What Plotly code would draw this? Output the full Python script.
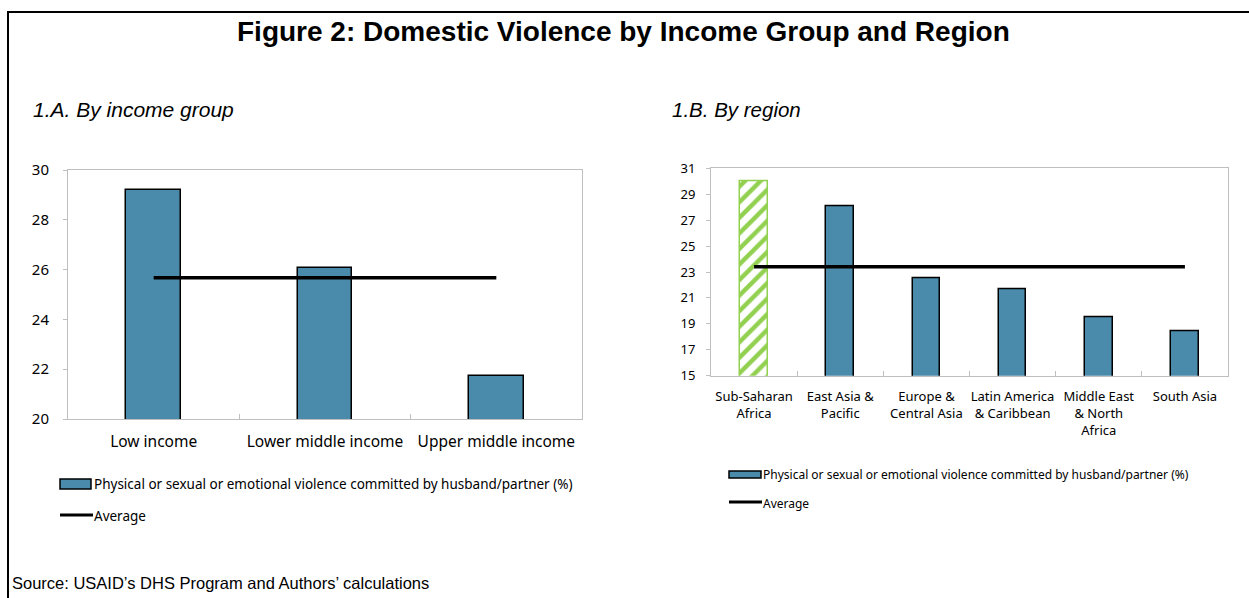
import plotly.graph_objects as go

# Panel A: by income group
income_groups = ["Low income", "Lower middle income", "Upper middle income"]
income_values = [29.2, 26.05, 21.74]
income_average = 25.67

# Panel B: by region
regions = ["Sub-Saharan Africa", "East Asia & Pacific", "Europe & Central Asia",
           "Latin America & Caribbean", "Middle East & North Africa", "South Asia"]
region_tick_labels = ["Sub-Saharan<br>Africa", "East Asia &<br>Pacific", "Europe &<br>Central Asia",
                      "Latin America<br>& Caribbean", "Middle East<br>& North<br>Africa", "South Asia"]
region_values = [30.0, 28.1, 22.5, 21.7, 19.5, 18.4]
region_average = 23.4

series_name = "Physical or sexual or emotional violence committed by husband/partner (%)"
average_name = "Average"

W, H = 1249, 598
BAR_BLUE = "#4A8AAB"
GREEN = "#92D050"
AXIS_GREY = "#BFBFBF"
SANS = "Noto Sans"
ARIAL = "Liberation Sans, Arial"


def px_x(v):
    return v / W


def px_y(v):
    return 1 - v / H


fig = go.Figure()

# Panel A bars and average line
fig.add_trace(go.Bar(
    x=income_groups, y=income_values, width=0.32,
    marker=dict(color=BAR_BLUE, line=dict(color="black", width=1.5)),
    xaxis="x", yaxis="y", showlegend=False, name=series_name,
))
fig.add_trace(go.Scatter(
    x=[income_groups[0], income_groups[-1]], y=[income_average, income_average],
    mode="lines", line=dict(color="black", width=3.5),
    xaxis="x", yaxis="y", showlegend=False, name=average_name,
))

# Panel B: Sub-Saharan Africa highlighted with green hatching, other regions in blue
fig.add_trace(go.Bar(
    x=regions[:1], y=region_values[:1], width=0.32,
    marker=dict(
        color="white",
        line=dict(color=GREEN, width=1.5),
        pattern=dict(shape="/", fillmode="replace", fgcolor=GREEN, bgcolor="white",
                     fgopacity=1, size=11, solidity=0.4),
    ),
    xaxis="x2", yaxis="y2", showlegend=False, name=regions[0],
))
fig.add_trace(go.Bar(
    x=regions[1:], y=region_values[1:], width=0.32,
    marker=dict(color=BAR_BLUE, line=dict(color="black", width=1.5)),
    xaxis="x2", yaxis="y2", showlegend=False, name=series_name,
))
fig.add_trace(go.Scatter(
    x=[regions[0], regions[-1]], y=[region_average, region_average],
    mode="lines", line=dict(color="black", width=3.5),
    xaxis="x2", yaxis="y2", showlegend=False, name=average_name,
))

common_x = dict(
    showline=True, linecolor=AXIS_GREY, linewidth=1, mirror=True,
    ticks="inside", tickson="boundaries", ticklen=5, tickcolor=AXIS_GREY,
    showgrid=False, zeroline=False, fixedrange=True, tickangle=0, automargin=False,
)
common_y = dict(
    showline=True, linecolor=AXIS_GREY, linewidth=1, mirror=True,
    ticks="outside", ticklen=4, tickcolor=AXIS_GREY,
    showgrid=False, zeroline=False, fixedrange=True, automargin=False,
)

fig.update_layout(
    template="none",
    width=W, height=H,
    margin=dict(l=0, r=0, t=0, b=0, autoexpand=False),
    paper_bgcolor="white", plot_bgcolor="white",
    barmode="overlay", bargap=0,
    xaxis=dict(domain=[px_x(68), px_x(582)], anchor="y",
               tickfont=dict(family=SANS, size=15.5, color="black"),
               ticklabelstandoff=8, **common_x),
    yaxis=dict(domain=[px_y(419), px_y(170)], anchor="x",
               range=[20, 30], dtick=2, tick0=20,
               tickfont=dict(family=SANS, size=15, color="black"),
               ticklabelstandoff=11, **common_y),
    xaxis2=dict(domain=[px_x(711), px_x(1228)], anchor="y2",
                categoryorder="array", categoryarray=regions,
                tickvals=regions, ticktext=region_tick_labels,
                tickfont=dict(family=SANS, size=13, color="black"),
                ticklabelstandoff=9, **common_x),
    yaxis2=dict(domain=[px_y(375.7), px_y(168.3)], anchor="x2",
                range=[15, 31], dtick=2, tick0=15,
                tickfont=dict(family=SANS, size=13, color="black"),
                ticklabelstandoff=8, **common_y),
)

shapes = [
    # Page frame: top and left rules
    dict(type="line", xref="paper", yref="paper", x0=px_x(7), x1=1, y0=px_y(12), y1=px_y(12),
         line=dict(color="black", width=2)),
    dict(type="line", xref="paper", yref="paper", x0=px_x(8), x1=px_x(8), y0=px_y(11), y1=0,
         line=dict(color="black", width=2)),
    # Legend swatches, panel A
    dict(type="rect", xref="paper", yref="paper", x0=px_x(60), x1=px_x(91), y0=px_y(489), y1=px_y(479),
         fillcolor=BAR_BLUE, line=dict(color="black", width=1.5)),
    dict(type="line", xref="paper", yref="paper", x0=px_x(60), x1=px_x(93), y0=px_y(515), y1=px_y(515),
         line=dict(color="black", width=3)),
    # Legend swatches, panel B
    dict(type="rect", xref="paper", yref="paper", x0=px_x(729), x1=px_x(761), y0=px_y(478), y1=px_y(471),
         fillcolor=BAR_BLUE, line=dict(color="black", width=1.5)),
    dict(type="line", xref="paper", yref="paper", x0=px_x(729), x1=px_x(762), y0=px_y(502), y1=px_y(502),
         line=dict(color="black", width=3)),
]

annotations = [
    dict(text="<b>Figure 2: Domestic Violence by Income Group and Region</b>",
         x=px_x(623), y=px_y(32), xanchor="center", yanchor="middle",
         font=dict(family=ARIAL, size=28, color="black")),
    dict(text="<i>1.A. By income group</i>", x=px_x(32), y=px_y(109), xanchor="left", yanchor="middle",
         font=dict(family=ARIAL, size=21, color="black")),
    dict(text="<i>1.B. By region</i>", x=px_x(671), y=px_y(109), xanchor="left", yanchor="middle",
         font=dict(family=ARIAL, size=20.5, color="black")),
    dict(text="Source: USAID’s DHS Program and Authors’ calculations", x=px_x(11), y=px_y(583),
         xanchor="left", yanchor="middle", font=dict(family=ARIAL, size=16.5, color="black")),
    dict(text=series_name, x=px_x(93), y=px_y(484), xanchor="left", yanchor="middle",
         font=dict(family=SANS, size=13.5, color="black")),
    dict(text=average_name, x=px_x(93), y=px_y(516), xanchor="left", yanchor="middle",
         font=dict(family=SANS, size=13.5, color="black")),
    dict(text=series_name, x=px_x(762), y=px_y(474.5), xanchor="left", yanchor="middle",
         font=dict(family=SANS, size=12, color="black")),
    dict(text=average_name, x=px_x(762), y=px_y(503), xanchor="left", yanchor="middle",
         font=dict(family=SANS, size=12, color="black")),
]
for a in annotations:
    a.update(xref="paper", yref="paper", showarrow=False, borderpad=0)

fig.update_layout(shapes=shapes, annotations=annotations)

fig.write_html("out.html")
